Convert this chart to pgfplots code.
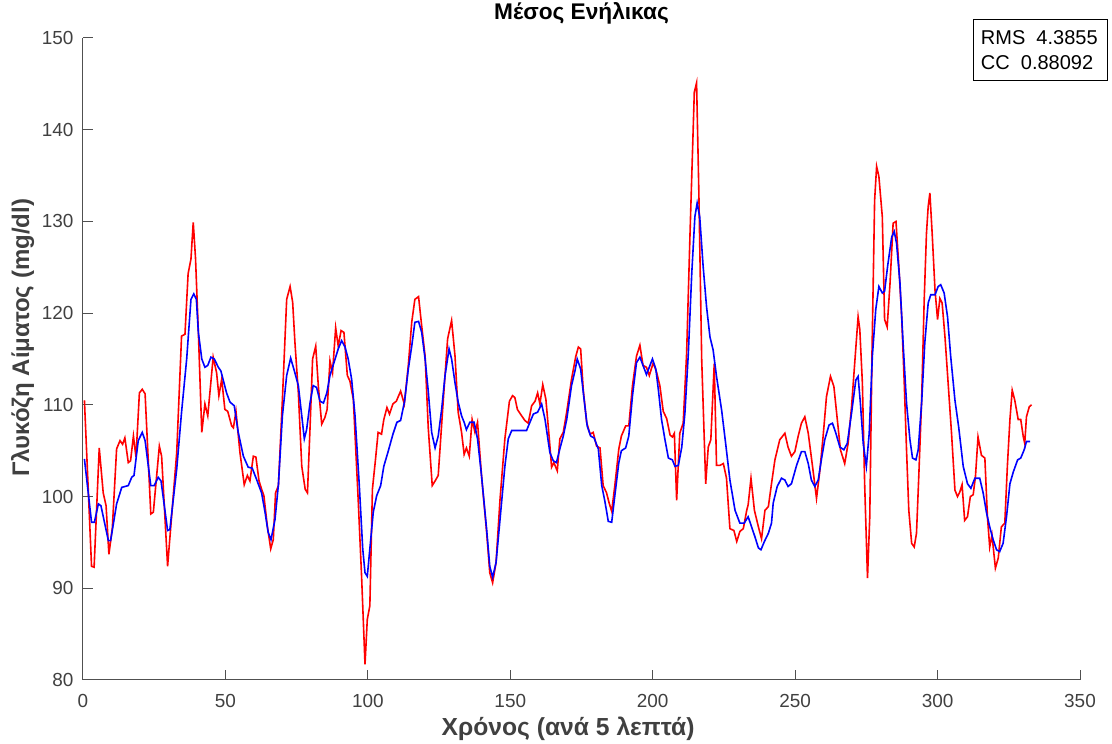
\documentclass[border=0pt]{standalone}
\usepackage{fontspec}
\setmainfont{Liberation Sans}
\usepackage{pgfplots}
\pgfplotsset{compat=1.18}
\definecolor{axgray}{RGB}{80,80,80}
\definecolor{lblgray}{RGB}{64,64,64}
\begin{document}
\begin{tikzpicture}
\begin{axis}[
  scale only axis,
  width=747.75pt, height=481.5pt,
  xmin=0, xmax=350, ymin=80, ymax=150,
  xtick={0,50,...,350}, ytick={80,90,...,150},
  axis x line*=bottom, axis y line*=left,
  axis line style={color=axgray, line width=0.75pt},
  tick style={color=axgray, line width=0.75pt},
  tick align=inside, major tick length=7.5pt,
  /pgf/number format/assume math mode=true,
  tick label style={font=\fontsize{14.2}{17}\selectfont, text=lblgray},
  xticklabel style={anchor=base, yshift=-21pt},
  yticklabel style={anchor=east, inner sep=0pt, xshift=-7pt},
  title={Μέσος Ενήλικας},
  title style={at={(0.5,1.0156)}, anchor=base, font=\bfseries\fontsize{17}{20}\selectfont},
  xlabel={Χρόνος (ανά 5 λεπτά)},
  xlabel style={at={(0.4865,-0.0872)}, anchor=base, font=\bfseries\fontsize{18.5}{21}\selectfont, text=lblgray},
  ylabel={Γλυκόζη Αίματος (mg/dl)},
  ylabel style={at={(-0.054,0.533)}, anchor=base, font=\bfseries\fontsize{18}{21}\selectfont, text=lblgray},
]
\addplot[red, line width=1.2pt] coordinates {
(0.5,110.5) (3.0,92.4) (3.9,92.3) (5.7,105.3) (7.1,100.4) (8.1,99.0) (9.1,93.7) (10.3,96.6)
(11.8,105.2) (13.0,106.1) (13.9,105.7) (14.7,106.4) (15.9,103.7) (16.7,103.9) (17.7,106.6)
(18.6,104.3) (19.8,111.3) (20.8,111.7) (21.8,111.2) (23.8,98.1) (24.7,98.3) (26.8,105.5)
(27.6,104.4) (29.7,92.4) (32.9,104.8) (34.6,117.5) (35.8,117.7) (36.9,124.3) (37.9,125.9)
(38.7,129.9) (39.5,126.0) (40.5,117.9) (41.7,107.0) (42.8,110.1) (43.8,108.8) (45.7,115.2)
(46.9,113.5) (47.7,111.0) (48.7,112.8) (49.8,109.5) (50.8,109.3) (52.2,107.7) (52.8,107.5)
(53.7,109.3) (55.1,104.8) (56.6,101.3) (57.7,102.3) (58.6,101.7) (59.8,104.4) (60.7,104.3)
(61.8,101.7) (62.7,100.8) (63.5,100.1) (64.7,96.8) (65.9,94.3) (66.8,95.3) (67.6,100.4)
(68.6,101.2) (70.0,110.6) (71.5,121.5) (72.7,122.9) (73.6,121.2) (74.4,116.8) (75.6,111.3)
(76.8,103.3) (78.0,100.8) (78.8,100.4) (79.7,107.5) (80.6,115.0) (81.7,116.4) (82.6,112.1)
(83.8,107.9) (84.9,108.6) (85.7,109.5) (86.7,114.8) (87.6,113.5) (88.7,118.4) (89.6,116.4)
(90.6,118.1) (91.6,117.9) (92.8,113.2) (93.7,112.6) (94.9,110.6) (96.6,99.7) (97.8,91.3)
(99.0,81.7) (99.8,86.6) (100.7,88.1) (101.6,100.8) (102.7,104.1) (103.6,107.0) (104.8,106.8)
(105.6,108.4) (106.7,109.7) (107.6,109.0) (108.8,110.1) (110.0,110.4) (111.5,111.5)
(112.8,110.1) (114.2,114.3) (115.4,119.0) (116.5,121.5) (117.8,121.8) (118.9,118.6)
(120.1,115.3) (121.2,107.5) (122.6,101.2) (123.6,101.7) (124.7,102.3) (126.5,110.6)
(128.0,117.2) (129.4,119.2) (130.6,115.3) (131.7,109.2) (132.9,107.0) (133.8,104.6)
(134.6,105.3) (135.6,104.4) (136.6,108.4) (137.6,107.0) (138.5,108.1) (139.9,102.3)
(141.7,96.1) (142.8,91.7) (143.8,90.6) (145.0,92.8) (146.4,99.7) (148.1,106.3) (149.7,110.4)
(150.8,111.0) (151.6,110.8) (152.5,109.5) (154.0,108.8) (155.1,108.3) (156.3,108.0)
(157.5,109.9) (158.7,110.4) (159.6,111.3) (160.4,110.1) (161.4,112.2) (162.5,110.6)
(163.7,106.3) (164.5,103.2) (165.3,103.7) (166.5,102.8) (167.4,106.3) (168.6,107.0)
(169.8,109.2) (171.5,112.8) (173.0,115.3) (173.9,116.3) (174.7,116.1) (175.6,111.7)
(176.8,108.1) (178.0,106.8) (179.1,107.0) (180.3,105.5) (181.5,105.3) (182.6,101.2)
(183.8,100.4) (184.7,99.3) (185.6,98.4) (186.7,101.2) (188.1,105.2) (189.0,106.6)
(190.5,107.7) (191.6,107.7) (192.9,112.1) (194.3,115.3) (195.5,116.5) (196.6,114.3)
(197.8,114.1) (198.8,113.2) (200.2,114.6) (201.4,113.5) (202.5,112.1) (203.7,109.3)
(204.9,108.5) (206.1,106.7) (206.9,106.5) (207.6,106.9) (208.4,99.6) (209.5,106.9)
(210.7,108.0) (211.9,115.6) (213.1,128.7) (214.6,144.1) (215.4,145.1) (216.2,133.1)
(217.2,114.9) (218.6,101.4) (219.5,105.4) (220.4,106.2) (221.6,114.5) (222.4,103.4)
(223.6,103.4) (224.8,103.6) (225.9,102.0) (227.1,96.5) (228.5,96.3) (229.5,95.1)
(230.6,96.2) (231.8,96.5) (233.0,98.5) (233.5,99.1) (234.5,102.0) (235.7,98.5) (237.1,96.7)
(238.2,95.4) (239.4,98.5) (240.6,98.9) (241.7,101.4) (242.9,104.0) (244.6,106.2)
(246.4,106.9) (247.5,105.4) (248.7,104.4) (249.9,104.9) (251.0,106.5) (252.2,108.0)
(253.4,108.7) (254.6,106.9) (256.1,103.3) (257.5,99.8) (258.7,102.9) (259.8,106.5)
(261.0,110.9) (262.4,113.1) (263.6,112.0) (264.8,108.4) (265.9,105.1) (267.4,103.6)
(268.6,105.8) (269.8,109.8) (270.9,114.5) (272.1,119.6) (272.7,118.2) (273.6,112.4)
(274.4,101.4) (275.4,91.1) (276.2,97.8) (277.0,116.0) (277.9,132.3) (278.6,136.0)
(279.4,134.9) (280.6,130.5) (281.4,119.3) (282.3,118.5) (283.3,123.2) (284.4,129.8)
(285.4,130.0) (286.4,125.1) (287.4,119.6) (288.3,112.4) (289.1,105.1) (289.9,98.5)
(290.9,94.9) (291.8,94.5) (292.6,96.0) (293.4,102.2) (294.4,110.5) (295.3,121.4)
(296.1,128.7) (296.7,131.6) (297.3,133.1) (298.1,128.7) (299.1,122.5) (300.0,119.3)
(300.8,121.6) (301.6,121.1) (302.6,117.4) (303.7,112.4) (304.9,106.9) (306.1,100.7)
(307.0,100.0) (307.8,100.5) (308.6,101.3) (309.5,97.4) (310.5,97.8) (311.5,100.0)
(312.5,100.2) (313.3,102.2) (314.2,106.5) (315.4,104.5) (316.6,104.2) (317.5,97.8)
(318.3,94.5) (319.1,95.8) (320.3,92.2) (321.3,93.3) (322.4,96.7) (323.6,97.1) (324.5,103.3)
(325.4,108.4) (326.2,111.6) (327.1,110.5) (328.3,108.4) (329.2,108.4) (330.1,106.5)
(330.6,105.8) (331.2,108.7) (332.2,109.8) (333.0,110.0)
};
\addplot[blue, line width=1.2pt] coordinates {
(0.5,104.1) (3.0,97.2) (4.0,97.2) (5.4,99.2) (6.3,99.0) (8.9,95.2) (9.7,95.2) (11.8,99.2)
(13.6,101.0) (15.9,101.2) (17.1,102.1) (17.9,102.3) (19.4,106.1) (20.8,107.0) (21.8,106.1)
(23.8,101.2) (25.0,101.2) (26.4,102.1) (27.4,101.7) (29.7,96.3) (30.5,96.4) (32.9,103.0)
(34.6,109.2) (36.4,115.0) (37.9,121.5) (38.9,122.1) (39.8,121.5) (40.5,117.9) (41.7,115.0)
(42.8,114.1) (43.8,114.3) (44.9,115.2) (46.1,115.0) (47.5,114.1) (48.4,113.7) (50.4,111.3)
(51.6,110.3) (53.1,109.9) (54.5,107.0) (56.3,104.4) (58.0,103.2) (59.4,103.1) (60.9,101.9)
(62.7,100.4) (63.9,98.3) (65.0,96.1) (66.0,95.3) (67.4,97.5) (68.6,101.3) (70.0,108.8)
(71.5,113.2) (72.9,115.1) (74.2,113.7) (75.6,112.1) (76.8,108.8) (77.7,106.3) (78.5,107.3)
(79.7,110.2) (80.8,112.1) (82.0,111.9) (83.2,110.4) (84.4,110.2) (85.6,111.3) (86.7,113.2)
(88.1,114.6) (89.6,116.1) (90.8,117.0) (92.0,116.3) (93.1,115.0) (94.3,112.8) (95.5,108.8)
(97.0,101.2) (98.2,94.3) (99.0,91.7) (99.8,91.3) (100.7,94.3) (101.9,98.3) (103.1,100.1)
(104.5,101.2) (105.6,103.3) (107.2,105.0) (108.8,106.8) (110.2,108.1) (111.5,108.3)
(112.9,110.4) (114.2,113.9) (115.4,116.4) (116.5,119.0) (117.8,119.1) (118.9,117.9)
(120.1,115.0) (121.2,111.5) (122.4,107.0) (123.6,105.3) (124.7,106.6) (125.9,109.5)
(127.1,113.2) (128.5,116.1) (129.4,115.0) (130.6,112.4) (131.7,110.3) (132.9,108.8)
(133.8,108.1) (134.6,107.3) (135.8,108.1) (137.3,108.1) (138.5,106.3) (139.9,102.3)
(141.7,96.4) (142.8,92.4) (143.8,91.2) (145.0,92.8) (146.4,97.5) (148.1,103.3) (149.3,106.3)
(150.5,107.2) (152.3,107.2) (154.0,107.2) (155.7,107.2) (156.9,108.1) (158.1,109.0)
(159.6,109.2) (161.0,110.1) (162.2,108.4) (163.9,104.8) (165.1,103.9) (166.2,103.7)
(167.4,105.2) (168.6,106.6) (169.8,108.4) (171.5,112.1) (172.7,113.7) (173.5,115.0)
(174.7,113.9) (175.9,110.6) (177.0,107.7) (178.2,106.6) (179.4,106.4) (180.9,105.2)
(182.1,101.2) (183.2,99.5) (184.4,97.3) (185.6,97.2) (186.7,100.1) (188.1,103.7) (189.0,105.0)
(190.5,105.3) (191.6,106.6) (192.9,111.0) (194.3,114.6) (195.5,115.2) (196.6,114.3)
(197.8,113.3) (198.8,114.1) (199.9,115.0) (201.1,113.9) (202.0,111.6) (203.1,108.4)
(204.3,106.2) (205.5,104.2) (206.9,104.0) (207.8,103.3) (209.0,103.4) (210.2,105.4)
(211.3,109.1) (212.5,115.6) (213.7,124.3) (214.8,130.5) (215.6,132.0) (216.5,130.5)
(217.7,125.1) (218.9,120.7) (220.1,117.4) (221.2,116.0) (222.4,113.1) (224.2,109.4)
(225.6,105.8) (227.1,101.8) (228.9,98.5) (230.6,97.1) (232.1,97.1) (233.5,97.8) (234.7,96.7)
(235.9,95.6) (237.1,94.4) (238.0,94.2) (239.2,95.1) (240.6,96.0) (241.7,97.1) (242.3,99.3)
(243.7,101.1) (245.2,102.0) (246.4,101.8) (247.5,101.1) (248.7,101.4) (250.5,103.4)
(252.2,104.9) (253.4,104.9) (254.6,103.6) (255.7,101.8) (256.9,101.1) (258.1,101.8)
(259.2,104.0) (260.4,106.2) (261.9,107.8) (263.1,108.0) (264.3,106.9) (265.7,105.4)
(267.1,105.1) (268.3,105.8) (269.8,109.1) (271.3,112.7) (272.1,113.1) (272.9,110.2)
(273.9,105.8) (275.0,103.3) (276.0,106.9) (277.1,115.3) (278.3,120.4) (279.4,122.9)
(280.6,122.2) (281.4,122.4) (282.5,125.2) (283.9,128.3) (284.8,128.9) (285.6,127.6)
(286.8,123.3) (287.9,116.7) (289.1,110.2) (290.3,106.2) (291.2,104.2) (292.4,104.0)
(293.2,105.1) (294.4,110.2) (295.5,116.7) (296.7,121.1) (297.6,122.0) (299.1,122.0)
(300.2,122.9) (301.1,123.1) (302.3,122.2) (303.5,119.6) (304.6,115.3) (306.1,110.5)
(307.4,107.6) (309.0,103.3) (310.5,101.4) (311.7,100.9) (313.1,102.0) (314.8,102.0)
(316.0,100.4) (317.2,98.2) (318.3,96.7) (319.5,95.3) (320.7,94.2) (321.8,94.0) (323.0,94.9)
(324.2,97.8) (325.4,101.4) (326.6,102.7) (328.1,104.0) (329.2,104.2) (330.4,105.1)
(331.2,106.0) (332.5,106.0)
};
\end{axis}
\node[draw=black, line width=0.6pt, fill=white, anchor=north east,
      minimum height=46pt, inner xsep=6pt, align=left,
      font=\fontsize{15}{18.5}\selectfont]
  at ([xshift=21pt,yshift=14.25pt]current axis.north east)
  {\makebox[89pt][l]{RMS\ \ 4.3855}\\\makebox[89pt][l]{CC\ \ 0.88092}};
\pgfresetboundingbox
\path (current axis.south west) +(-62.25pt,-48pt) (current axis.north east) +(24pt,28.5pt);
\end{tikzpicture}
\end{document}
